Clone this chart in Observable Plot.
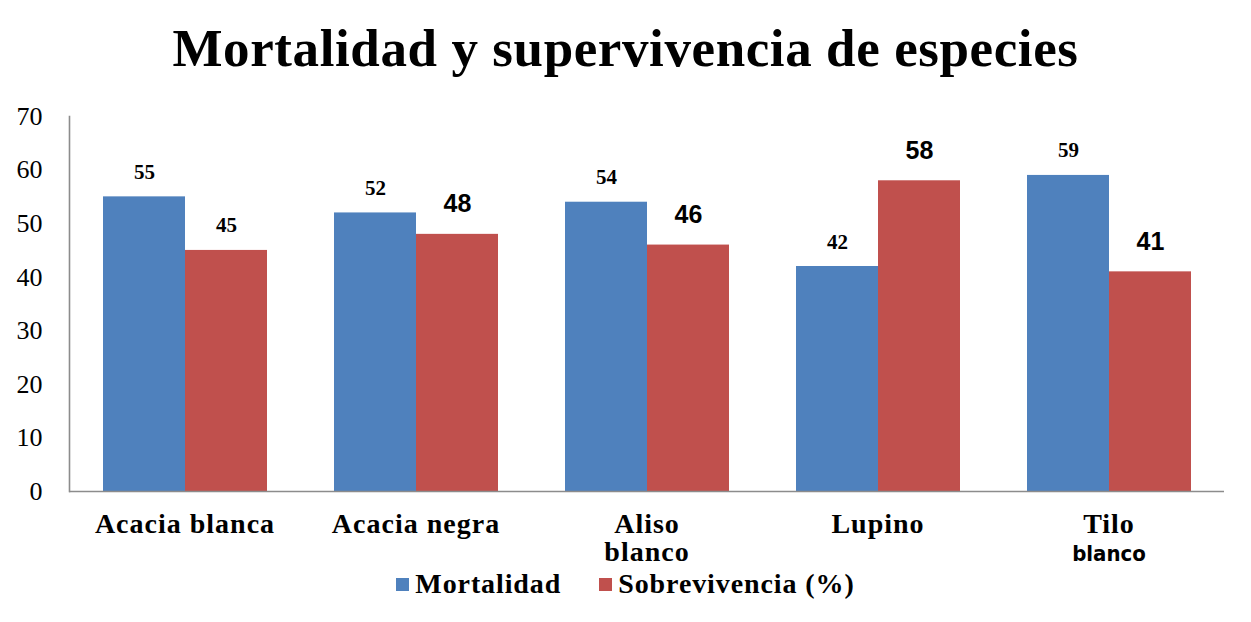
<!DOCTYPE html>
<html>
<head>
<meta charset="utf-8">
<script src="https://cdn.jsdelivr.net/npm/d3@7"></script>
<script src="https://cdn.jsdelivr.net/npm/@observablehq/plot@0.6"></script>
<style>
  html, body { margin: 0; padding: 0; background: #fff; }
  body { width: 1251px; height: 622px; position: relative; overflow: hidden; }
  #title { position: absolute; left: 0; top: 22px; width: 1251px; text-align: center; letter-spacing: 0.6px;
           font: bold 53px/53px "Liberation Serif", "Times New Roman", serif; color: #000; }
  #chart { position: absolute; left: 0; top: 100px; }
  #legend { position: absolute; left: 0; top: 570px; width: 1251px; display: flex; justify-content: center;
            align-items: center; font: bold 28px/28px "Liberation Serif", "Times New Roman", serif;
            letter-spacing: 0.9px; color: #000; }
  .item { display: flex; align-items: center; margin: 0 19px; }
  .sw { width: 13px; height: 13px; margin-right: 6px; }
  g[aria-label="fx-axis tick label"] text { letter-spacing: 1px; }
</style>
</head>
<body>
<div id="title">Mortalidad y supervivencia de especies</div>
<div id="chart"></div>
<div id="legend"></div>
<script>
// ---- data ----
const categories = ["Acacia blanca", "Acacia negra", "Aliso blanco", "Lupino", "Tilo blanco"];
const series = ["Mortalidad", "Sobrevivencia (%)"];
const mortalidad = [55, 52, 54, 42, 59];
const sobrevivencia = [45, 48, 46, 58, 41];
const yTicks = [0, 10, 20, 30, 40, 50, 60, 70];
const colors = ["#4F81BD", "#C0504D"];

const data = categories.flatMap((c, i) => [
  {cat: c, serie: series[0], value: mortalidad[i]},
  {cat: c, serie: series[1], value: sobrevivencia[i]}
]);

// value labels drawn in the larger sans style (as in the reference)
const isBig = d => d.serie === series[1] && d.cat !== categories[0];

const serif = "'Liberation Serif', 'Times New Roman', serif";
const sans = "'Liberation Sans', Arial, sans-serif";

const chart = Plot.plot({
  width: 1251,
  height: 470,
  marginTop: 16,
  marginBottom: 79,
  marginLeft: 67,
  marginRight: 26,
  style: {background: "transparent", color: "#000", fontFamily: serif},
  fx: {domain: categories, padding: 0, label: null},
  x: {domain: series, paddingInner: 0, paddingOuter: 0.395, axis: null},
  y: {domain: [0, 70]},
  color: {domain: series, range: colors},
  marks: [
    Plot.barY(data, {fx: "cat", x: "serie", y: "value", fill: "serie"}),
    Plot.ruleY([0], {stroke: "#8c8c8c", strokeWidth: 1.6}),
    Plot.frame({anchor: "left", facetAnchor: "left", stroke: "#8c8c8c", strokeWidth: 1.6}),
    Plot.axisY({ticks: yTicks, tickSize: 0, tickPadding: 27, label: null,
                fontSize: 26, fontFamily: serif, fill: "#000"}),
    Plot.axisFx({anchor: "bottom", tickSize: 0, tickPadding: 22, label: null,
                 tickFormat: d => d.replace(/^(Aliso|Tilo) /, "$1\n"),
                 lineHeight: 1.0, fontSize: 28, fontWeight: "bold", fontFamily: serif, fill: "#000"}),
    Plot.text(data.filter(d => !isBig(d)), {fx: "cat", x: "serie", y: "value", text: d => String(d.value),
      lineAnchor: "bottom", dy: -18, fontSize: 21, fontWeight: "bold", fontFamily: serif, fill: "#000"}),
    Plot.text(data.filter(isBig), {fx: "cat", x: "serie", y: "value", text: d => String(d.value),
      lineAnchor: "bottom", dy: -22, fontSize: 25, fontWeight: "bold", fontFamily: sans, fill: "#000"})
  ]
});
document.getElementById("chart").appendChild(chart);

// "blanco" under "Tilo" is set in a narrow sans face in the reference
d3.select(chart).selectAll("text").each(function() {
  const t = d3.select(this).selectAll("tspan");
  if (t.size() === 2 && t.nodes()[0].textContent === "Tilo") {
    d3.select(t.nodes()[1]).attr("dy", "28px")
      .style("font-family", "'Liberation Sans Narrow', 'DejaVu Sans Condensed', sans-serif")
      .style("font-stretch", "condensed").style("font-size", "22px").style("letter-spacing", "0px");
  }
});

// legend
const legend = d3.select("#legend");
series.forEach((s, i) => {
  const it = legend.append("div").attr("class", "item");
  it.append("div").attr("class", "sw").style("background", colors[i]);
  it.append("span").text(s);
});
</script>
</body>
</html>
